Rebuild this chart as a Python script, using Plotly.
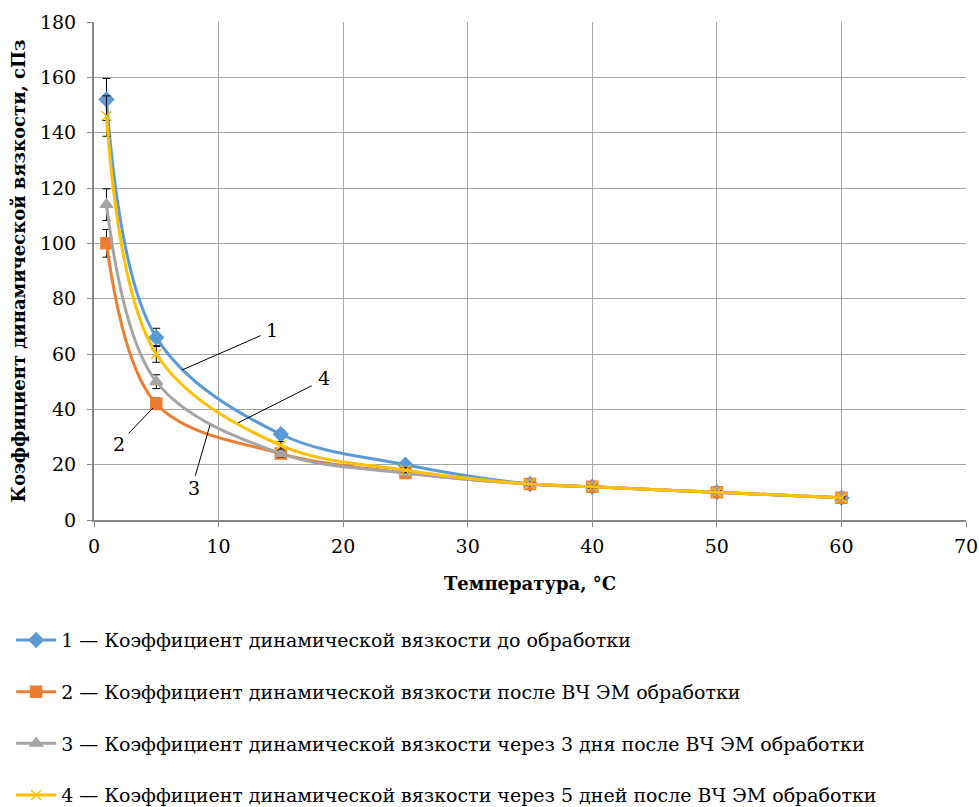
import plotly.graph_objects as go

temps = [1, 5, 15, 25, 35, 40, 50, 60]
s1 = [152, 66, 31, 20, 13, 12, 10, 8]
s2 = [100, 42, 24, 17, 13, 12, 10, 8]
s3 = [114, 50, 24, 17, 13, 12, 10, 8]
s4 = [146, 60, 27, 18, 13, 12, 10, 8]
names = [
    "1 — Коэффициент динамической вязкости до обработки",
    "2 — Коэффициент динамической вязкости после ВЧ ЭМ обработки",
    "3 — Коэффициент динамической вязкости через 3 дня после ВЧ ЭМ обработки",
    "4 — Коэффициент динамической вязкости через 5 дней после ВЧ ЭМ обработки",
]
colors = ["#5B9BD5", "#ED7D31", "#A5A5A5", "#FFC000"]
symbols = ["diamond", "square", "triangle-up", "x-thin"]
series = [s1, s2, s3, s4]

FONT = "DejaVu Serif"
fig = go.Figure()
for i, ys in enumerate(series):
    fig.add_trace(go.Scatter(
        x=temps, y=ys, name=names[i], mode="lines+markers",
        line=dict(color=colors[i], width=3, shape="spline", smoothing=1.0),
        marker=dict(symbol=symbols[i], size=11 if i < 3 else 10, color=colors[i],
                    line=dict(color=colors[i], width=1.5)),
        error_y=dict(type="percent", value=5, color="black", thickness=1, width=4),
        legendgroup=str(i),
    ))

labels = [
    ("1", 14.3, 68.5, 13.5, 66.9, 7.06, 54.2),
    ("4", 18.5, 51.5, 17.6, 48.8, 11.56, 35.1),
    ("2", 2.0, 27.5, 2.65, 30.7, 4.74, 40.5),
    ("3", 8.0, 11.5, 8.1, 15.5, 9.31, 34.3),
]
for t, tx, ty, x0, y0, x1, y1 in labels:
    fig.add_annotation(x=x1, y=y1, ax=x0, ay=y0, axref="x", ayref="y",
                       xref="x", yref="y", text="", showarrow=True,
                       arrowhead=0, arrowwidth=1, arrowcolor="black")
    fig.add_annotation(x=tx, y=ty, xref="x", yref="y", text=t, showarrow=False,
                       font=dict(family=FONT, size=19, color="black"))

fig.update_layout(
    width=979, height=807,
    margin=dict(l=94, r=13, t=22, b=287, autoexpand=False),
    plot_bgcolor="white", paper_bgcolor="white",
    font=dict(family=FONT, size=19, color="black"),
    showlegend=True,
    legend=dict(x=-0.095, y=-0.203, xanchor="left", yanchor="top",
                orientation="v", traceorder="grouped", tracegroupgap=24,
                font=dict(family=FONT, size=19, color="black"),
                itemwidth=40, bgcolor="rgba(0,0,0,0)"),
)
fig.update_xaxes(range=[0, 70], dtick=10, showgrid=True, gridcolor="#A6A6A6",
                 gridwidth=1, showline=True, linecolor="#868686", linewidth=2,
                 ticks="outside", tickcolor="#868686", ticklen=5, zeroline=False,
                 ticklabelstandoff=3,
                 title=dict(text="<b>Температура, °С</b>", font=dict(family=FONT, size=18), standoff=22),
                 tickfont=dict(family=FONT, size=19))
fig.update_yaxes(range=[0, 180], dtick=20, showgrid=True, gridcolor="#A6A6A6",
                 gridwidth=1, showline=True, linecolor="#868686", linewidth=2,
                 ticks="outside", tickcolor="#868686", ticklen=5, zeroline=False,
                 ticklabelstandoff=7,
                 title=dict(text="<b>Коэффициент динамической вязкости, сПз</b>",
                            font=dict(family=FONT, size=18), standoff=10),
                 tickfont=dict(family=FONT, size=19))
fig.write_html("out.html", config={"displayModeBar": False},
               post_script="document.body.style.margin='0';document.body.style.overflow='hidden';")
